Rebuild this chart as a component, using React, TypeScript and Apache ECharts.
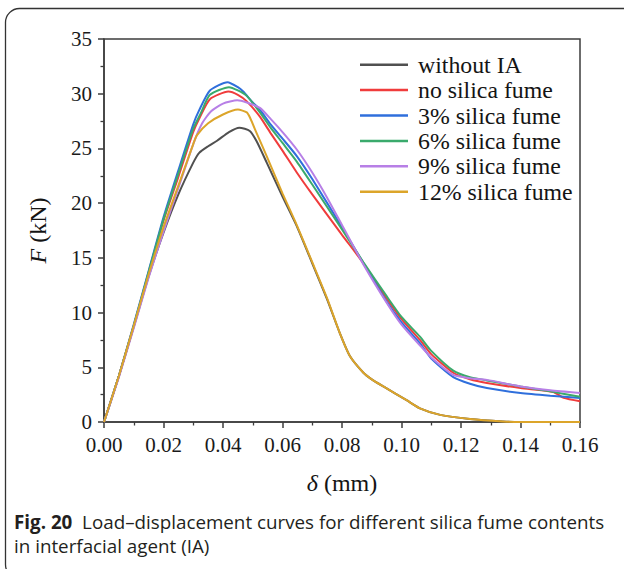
import React, { useEffect, useRef } from "react";
import * as echarts from "echarts";

const seriesNames = [
  "without IA",
  "no silica fume",
  "3% silica fume",
  "6% silica fume",
  "9% silica fume",
  "12% silica fume",
];
const seriesColors = ["#505050", "#f03c3c", "#2f6fdc", "#3aaa6c", "#b77fe6", "#dca52a"];

const xTicks = [0, 0.02, 0.04, 0.06, 0.08, 0.1, 0.12, 0.14, 0.16];
const yTicks = [0, 5, 10, 15, 20, 25, 30, 35];

// [δ (mm), F (kN)]
const withoutIA = [
  [0, 0], [0.005, 4.2], [0.01, 8.7], [0.015, 13.3], [0.02, 17.3], [0.025, 20.8], [0.03, 23.7],
  [0.032, 24.6], [0.035, 25.2], [0.038, 25.7], [0.042, 26.5], [0.0455, 26.9], [0.049, 26.6],
  [0.0513, 25.65], [0.0547, 23.7], [0.06, 20.6], [0.0648, 17.9], [0.07, 14.5], [0.075, 11.2],
  [0.0793, 8.1], [0.0827, 6.0], [0.0872, 4.5], [0.09, 3.9], [0.0939, 3.25], [0.1017, 2.0],
  [0.1062, 1.25], [0.113, 0.65], [0.123, 0.27], [0.134, 0.05], [0.14, 0], [0.16, 0],
];
const noSilica = [
  [0, 0], [0.005, 4.2], [0.01, 8.8], [0.015, 13.6], [0.02, 18.4], [0.025, 22.4], [0.03, 26.5],
  [0.0323, 27.9], [0.0356, 29.5], [0.0418, 30.2], [0.045, 29.9], [0.048, 29.3], [0.0524, 27.9],
  [0.056, 26.4], [0.06, 24.8], [0.0648, 22.8], [0.07, 20.8], [0.08, 17.1], [0.0872, 14.5],
  [0.095, 11.3], [0.1, 9.4], [0.1062, 7.5], [0.11, 6.2], [0.1174, 4.5], [0.123, 3.9],
  [0.1287, 3.56], [0.14, 3.1], [0.151, 2.75], [0.1545, 2.2], [0.16, 1.9],
];
const silica3 = [
  [0, 0], [0.005, 4.2], [0.01, 8.9], [0.015, 13.8], [0.02, 18.7], [0.025, 23.0], [0.03, 27.2],
  [0.032, 28.5], [0.0356, 30.3], [0.0415, 31.05], [0.045, 30.6], [0.0468, 30.2], [0.05, 29.2],
  [0.0524, 28.55], [0.056, 27.2], [0.06, 25.9], [0.0648, 24.3], [0.07, 22.2], [0.08, 17.8],
  [0.0872, 14.5], [0.095, 11.0], [0.1, 9.1], [0.1062, 7.2], [0.11, 5.8], [0.1174, 4.1],
  [0.123, 3.5], [0.1287, 3.1], [0.14, 2.65], [0.15, 2.4], [0.16, 2.2],
];
const silica6 = [
  [0, 0], [0.005, 4.2], [0.01, 8.8], [0.015, 13.7], [0.02, 18.5], [0.025, 22.7], [0.03, 26.8],
  [0.0325, 28.2], [0.0356, 29.9], [0.042, 30.6], [0.045, 30.3], [0.048, 29.8], [0.0524, 28.3],
  [0.056, 26.9], [0.06, 25.5], [0.0648, 23.8], [0.07, 21.7], [0.08, 17.6], [0.0872, 14.6],
  [0.095, 11.5], [0.1, 9.6], [0.1062, 7.8], [0.11, 6.5], [0.1174, 4.7], [0.123, 4.1],
  [0.1287, 3.8], [0.14, 3.25], [0.15, 2.8], [0.16, 2.3],
];
const silica9 = [
  [0, 0], [0.005, 4.1], [0.01, 8.6], [0.015, 13.2], [0.02, 17.4], [0.025, 21.4], [0.03, 25.4],
  [0.033, 27.3], [0.036, 28.4], [0.04, 29.1], [0.0448, 29.4], [0.048, 29.2], [0.0524, 28.7],
  [0.056, 27.7], [0.0603, 26.4], [0.0648, 24.9], [0.07, 22.8], [0.075, 20.5], [0.08, 18.0],
  [0.0872, 14.4], [0.095, 10.9], [0.1, 8.9], [0.1062, 7.0], [0.11, 5.9], [0.1174, 4.3],
  [0.123, 4.0], [0.1287, 3.85], [0.14, 3.25], [0.15, 2.9], [0.16, 2.65],
];
const silica12 = [
  [0, 0], [0.005, 4.2], [0.01, 8.8], [0.015, 13.5], [0.02, 17.8], [0.025, 21.6], [0.03, 25.4],
  [0.0312, 26.2], [0.035, 27.3], [0.04, 28.1], [0.045, 28.55], [0.048, 28.3], [0.0491, 27.8],
  [0.0513, 26.4], [0.055, 24.1], [0.06, 20.9], [0.0648, 18.0], [0.07, 14.6], [0.075, 11.3],
  [0.0793, 8.1], [0.0827, 6.0], [0.0872, 4.5], [0.09, 3.9], [0.0939, 3.25], [0.1017, 2.0],
  [0.1062, 1.25], [0.113, 0.65], [0.123, 0.27], [0.134, 0.05], [0.14, 0], [0.16, 0],
];
const seriesData = [withoutIA, noSilica, silica3, silica6, silica9, silica12];

const serif = "'Liberation Serif', 'Times New Roman', serif";
const sans = "'Open Sans', 'Noto Sans', sans-serif";
const axisColor = "#3c3c3c";

export default function App() {
  const ref = useRef<HTMLDivElement>(null);
  useEffect(() => {
    if (!ref.current) return;
    const chart = echarts.init(ref.current, null, { renderer: "svg" });
    chart.setOption({
      animation: false,
      backgroundColor: "#ffffff",
      grid: {
        left: 104,
        right: 44,
        top: 39,
        bottom: 147,
        show: true,
        borderColor: axisColor,
        borderWidth: 1.5,
      },
      legend: {
        orient: "vertical",
        left: 355,
        top: 47,
        itemWidth: 48,
        itemHeight: 2.5,
        itemGap: 0,
        icon: "rect",
        data: seriesNames,
        textStyle: {
          fontFamily: serif,
          fontSize: 23.8,
          color: "#141414",
          lineHeight: 25.4,
          padding: [0, 0, 0, 5],
        },
      },
      xAxis: {
        type: "value",
        min: xTicks[0],
        max: xTicks[xTicks.length - 1],
        interval: 0.02,
        name: "{i|δ} (mm)",
        nameLocation: "middle",
        nameGap: 49,
        nameTextStyle: {
          fontFamily: serif,
          fontSize: 24,
          color: "#141414",
          rich: { i: { fontFamily: serif, fontSize: 24, fontStyle: "italic", color: "#141414" } },
        },
        axisLine: { show: true, lineStyle: { color: axisColor, width: 1.5 } },
        axisTick: { show: true, inside: false, length: 6, lineStyle: { color: axisColor, width: 1.5 } },
        minorTick: { show: true, splitNumber: 2, length: 3.5, lineStyle: { color: axisColor, width: 1.3 } },
        splitLine: { show: false },
        axisLabel: {
          margin: 12,
          fontFamily: serif,
          fontSize: 21,
          color: "#1a1a1a",
          formatter: (v: number) => v.toFixed(2),
        },
      },
      yAxis: {
        type: "value",
        min: yTicks[0],
        max: yTicks[yTicks.length - 1],
        interval: 5,
        name: "{i|F} (kN)",
        nameLocation: "middle",
        nameGap: 54,
        nameTextStyle: {
          fontFamily: serif,
          fontSize: 24,
          color: "#141414",
          rich: { i: { fontFamily: serif, fontSize: 24, fontStyle: "italic", color: "#141414" } },
        },
        axisLine: { show: true, lineStyle: { color: axisColor, width: 1.5 } },
        axisTick: { show: true, inside: false, length: 6, lineStyle: { color: axisColor, width: 1.5 } },
        minorTick: { show: true, splitNumber: 2, length: 3.5, lineStyle: { color: axisColor, width: 1.3 } },
        splitLine: { show: false },
        axisLabel: { margin: 12, fontFamily: serif, fontSize: 21, color: "#1a1a1a" },
      },
      series: seriesNames.map((name, i) => ({
        name,
        type: "line",
        data: seriesData[i],
        showSymbol: false,
        symbol: "none",
        smooth: 0.2,
        color: seriesColors[i],
        lineStyle: { color: seriesColors[i], width: 2 },
        z: 2 + i,
      })),
      graphic: [
        {
          type: "rect",
          shape: { x: 5.5, y: 8.5, width: 640, height: 570, r: 14 },
          style: { fill: "none", stroke: "#333333", lineWidth: 1.3 },
          silent: true,
        },
        {
          type: "text",
          left: 14,
          top: 512,
          style: {
            text: "{b|Fig. 20}  Load–displacement curves for different silica fume contents",
            fontFamily: sans,
            fontSize: 18.8,
            fill: "#231f20",
            rich: {
              b: { fontFamily: sans, fontSize: 18.8, fontWeight: "bold", fill: "#231f20" },
            },
          },
        },
        {
          type: "text",
          left: 14,
          top: 536,
          style: {
            text: "in interfacial agent (IA)",
            fontFamily: sans,
            fontSize: 18.8,
            fill: "#231f20",
          },
        },
      ],
    });
    return () => chart.dispose();
  }, []);
  return (
    <div
      ref={ref}
      style={{ position: "fixed", left: 0, top: 0, width: 624, height: 569, background: "#fff" }}
    />
  );
}
